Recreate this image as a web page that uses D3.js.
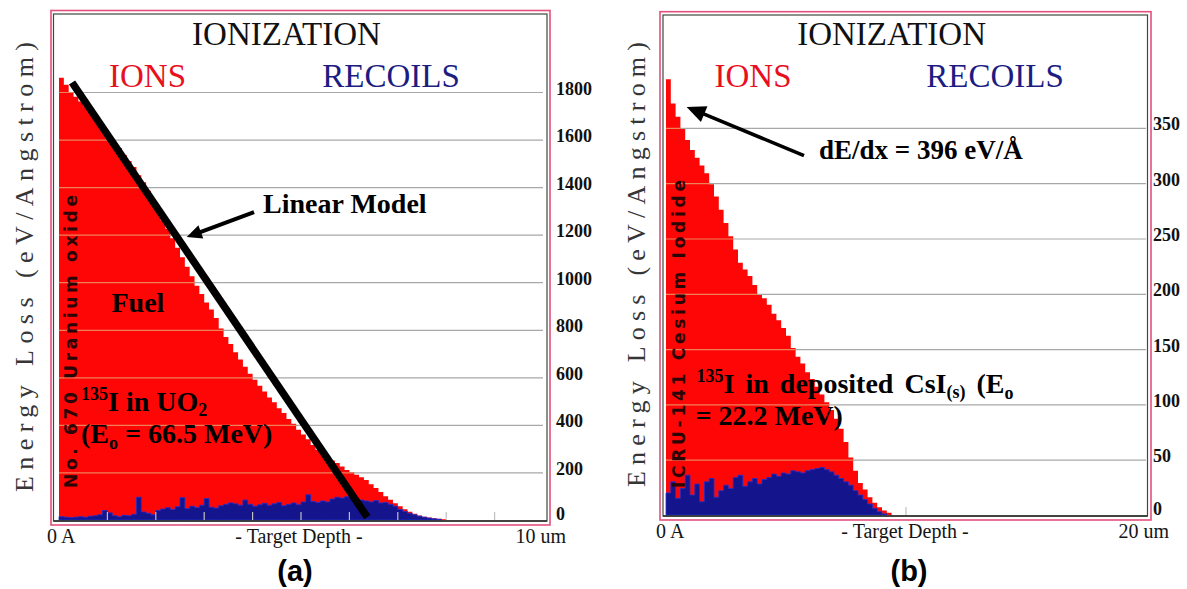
<!DOCTYPE html>
<html>
<head>
<meta charset="utf-8">
<script src="https://cdn.jsdelivr.net/npm/d3@7"></script>
<style>
  body { margin: 0; background: #fff; }
</style>
</head>
<body>
<div id="chart"></div>
<script>
// ---- data ----
// (a) 135I in UO2, ion / recoil energy loss (eV/A) per 0.1 um depth bin
var binA = 0.1;
var ionsA = [1860, 1830, 1800, 1780, 1760, 1740, 1715, 1690, 1660, 1630,
  1605, 1585, 1565, 1535, 1510, 1485, 1450, 1420, 1385, 1345,
  1300, 1260, 1225, 1185, 1145, 1105, 1065, 1025, 985, 950,
  915, 885, 850, 805, 770, 740, 705, 675, 645, 615,
  590, 565, 540, 515, 495, 470, 450, 425, 405, 380,
  360, 340, 315, 295, 280, 265, 250, 240, 225, 210,
  200, 190, 180, 168, 150, 135, 118, 100, 85, 70,
  58, 45, 35, 26, 19, 14, 10, 7, 5, 3, 0];
var recoilsA = [14, 12, 10, 12, 14, 12, 16, 18, 22, 40,
  30, 18, 14, 20, 18, 24, 96, 34, 28, 22,
  40, 46, 52, 44, 56, 94, 48, 58, 52, 62,
  90, 54, 50, 60, 66, 72, 68, 62, 84, 66,
  58, 64, 70, 62, 68, 74, 60, 66, 72, 64,
  76, 106, 78, 74, 80, 76, 88, 96, 92, 98,
  94, 90, 84, 80, 76, 82, 72, 74, 66, 58,
  44, 36, 28, 22, 16, 12, 8, 5, 3, 0];
var linearModel = [[0.27, 1840], [6.37, 12]];
var yTicksA = [0, 200, 400, 600, 800, 1000, 1200, 1400, 1600, 1800];
var xTicksA = [1, 2, 3, 4, 5, 6, 7, 8, 9];

// (b) 135I in deposited CsI, per 0.2 um depth bin
var binB = 0.2;
var ionsB = [394, 372, 360, 349, 339, 330, 323, 316, 309, 299,
  288, 276, 264, 252, 240, 228, 222, 216, 208, 199,
  196, 190, 182, 176, 169, 162, 151, 143, 137, 129,
  123, 116, 109, 102, 95, 87, 78, 66, 52, 40,
  29, 23, 16, 11, 7, 4, 2, 0];
var recoilsB = [20, 30, 15, 24, 36, 18, 28, 12, 30, 33,
  16, 22, 27, 24, 34, 36, 26, 30, 33, 28,
  32, 34, 37, 35, 38, 37, 40, 39, 38, 40,
  41, 42, 43, 41, 39, 36, 33, 30, 27, 22,
  18, 14, 10, 6, 3, 1, 0];
var yTicksB = [0, 50, 100, 150, 200, 250, 300, 350];
var xTicksB = [10];

var W = 1187, H = 589;
var svg = d3.select("#chart").append("svg")
  .attr("width", W).attr("height", H)
  .style("font-family", "'Liberation Serif', serif");

function arrow(g, x1, y1, x2, y2, len, half, lw) {
  var dx = x2 - x1, dy = y2 - y1, L = Math.sqrt(dx * dx + dy * dy);
  var ux = dx / L, uy = dy / L;
  var bx = x2 - ux * len, by = y2 - uy * len;
  g.append("line").attr("x1", x1).attr("y1", y1).attr("x2", bx + ux * 2).attr("y2", by + uy * 2)
    .attr("stroke", "#000").attr("stroke-width", lw);
  g.append("path")
    .attr("d", "M" + x2 + "," + y2 + "L" + (bx - uy * half) + "," + (by + ux * half) +
      "L" + (bx + uy * half) + "," + (by - ux * half) + "Z")
    .attr("fill", "#000");
}

function drawPanel(p) {
  var g = svg.append("g");
  var x = d3.scaleLinear().domain([0, p.xmax]).range(p.xr);
  var y = d3.scaleLinear().domain([0, p.ymax]).range(p.yr);

  // frames
  g.append("rect").attr("x", p.pink[0]).attr("y", p.pink[1])
    .attr("width", p.pink[2] - p.pink[0]).attr("height", p.pink[3] - p.pink[1])
    .attr("fill", "none").attr("stroke", "#e4507c").attr("stroke-width", 1.6);
  g.append("rect").attr("x", p.inner[0]).attr("y", p.inner[1])
    .attr("width", p.inner[2] - p.inner[0]).attr("height", p.inner[3] - p.inner[1])
    .attr("fill", "none").attr("stroke", "#3e4a40").attr("stroke-width", 1.2);

  // grid lines
  var gridV = p.yTicks.filter(function(d) { return d > 0; });
  g.append("g").selectAll("line").data(gridV).enter().append("line")
    .attr("x1", p.xr[0]).attr("x2", p.xr[1])
    .attr("y1", function(d) { return y(d) + 0.5; }).attr("y2", function(d) { return y(d) + 0.5; })
    .attr("stroke", "#a8a8a8").attr("stroke-width", 1.2);

  var area = function(bin) {
    return d3.area()
      .x(function(d, i) { return x(i * bin); })
      .y0(y(0))
      .y1(function(d) { return y(d); })
      .curve(d3.curveStepAfter);
  };

  var ionPath = area(p.bin)(p.ions);
  g.append("path").attr("d", ionPath).attr("fill", "#ff0606");

  // grid showing faintly through the red area
  g.append("clipPath").attr("id", "clip" + p.id).append("path").attr("d", ionPath);
  g.append("g").attr("clip-path", "url(#clip" + p.id + ")")
    .selectAll("line").data(gridV).enter().append("line")
    .attr("x1", p.xr[0]).attr("x2", p.xr[1])
    .attr("y1", function(d) { return y(d) + 0.5; }).attr("y2", function(d) { return y(d) + 0.5; })
    .attr("stroke", "#e8a070").attr("stroke-width", 1.2).attr("opacity", 0.8);

  g.append("path").attr("d", area(p.bin)(p.recoils))
    .attr("fill", "#14148c").attr("stroke", "#2030d0").attr("stroke-width", 0.8);

  // x ticks
  g.append("g").selectAll("line").data(p.xTicks).enter().append("line")
    .attr("x1", function(d) { return x(d); }).attr("x2", function(d) { return x(d); })
    .attr("y1", y(0)).attr("y2", y(0) - 8)
    .attr("stroke", "#c0c0c0").attr("stroke-width", 1.2);

  // baseline
  g.append("line").attr("x1", p.inner[0]).attr("x2", p.inner[2])
    .attr("y1", y(0) + 1).attr("y2", y(0) + 1)
    .attr("stroke", "#2a2a2a").attr("stroke-width", 1.5);

  // y tick labels on the right
  g.append("g").selectAll("text").data(p.yTicks).enter().append("text")
    .attr("x", p.labelX).attr("y", function(d) { return y(d) + (d === 0 ? 0 : 2.5); })
    .attr("font-size", 18).attr("font-weight", "bold").attr("fill", "#111")
    .text(function(d) { return d; });

  // headers
  g.append("text").attr("x", p.title[0]).attr("y", 45).attr("text-anchor", "middle")
    .attr("font-size", 33).attr("fill", "#111").text("IONIZATION");
  g.append("text").attr("x", p.title[1]).attr("y", 87).attr("text-anchor", "middle")
    .attr("font-size", 33).attr("fill", "#e8101e").text("IONS");
  g.append("text").attr("x", p.title[2]).attr("y", 87).attr("text-anchor", "middle")
    .attr("font-size", 33).attr("fill", "#1c1c82").text("RECOILS");

  // axis texts
  g.append("text").attr("transform", "translate(" + p.eLoss[0] + "," + p.eLoss[1] + ") rotate(-90)")
    .attr("font-size", 26).attr("fill", "#363636")
    .attr("textLength", p.eLoss[2]).attr("lengthAdjust", "spacing")
    .text("Energy Loss (eV/Angstrom)");
  g.append("text").attr("transform", "translate(" + p.mat[0] + "," + p.mat[1] + ") rotate(-90)")
    .attr("font-size", 17).attr("font-weight", "bold").attr("fill", "#2b0505")
    .style("font-family", "'DejaVu Sans', sans-serif")
    .attr("textLength", p.mat[2]).attr("lengthAdjust", "spacing")
    .text(p.material);

  g.append("text").attr("x", p.bottom[0]).attr("y", p.bottom[3])
    .attr("font-size", 20).attr("fill", "#151515").text("0 A");
  g.append("text").attr("x", p.bottom[1]).attr("y", p.bottom[3]).attr("text-anchor", "middle")
    .attr("font-size", 20).attr("fill", "#151515").text("- Target Depth -");
  g.append("text").attr("x", p.bottom[2]).attr("y", p.bottom[3]).attr("text-anchor", "end")
    .attr("font-size", 20).attr("fill", "#151515").text(p.xmax + " um");

  g.append("text").attr("x", p.caption[0]).attr("y", p.caption[1]).attr("text-anchor", "middle")
    .style("font-family", "'Liberation Sans', Arial, sans-serif")
    .attr("font-size", 29).attr("font-weight", "bold").attr("fill", "#000")
    .text(p.captionText);

  return { g: g, x: x, y: y };
}

// ---- panel (a) ----
var A = drawPanel({
  id: "a", xmax: 10, xr: [59, 543], ymax: 1800, yr: [520, 92],
  pink: [51, 10.5, 550, 525], inner: [53.5, 14, 547, 521],
  bin: binA, ions: ionsA, recoils: recoilsA, yTicks: yTicksA, xTicks: xTicksA,
  labelX: 556, title: [286.5, 147.5, 391],
  eLoss: [32.5, 492, 450], mat: [77, 488, 293], material: "No. 670 Uranium oxide",
  bottom: [47, 299, 566, 542.5], caption: [295, 581], captionText: "(a)"
});

A.g.append("line")
  .attr("x1", A.x(linearModel[0][0])).attr("y1", A.y(linearModel[0][1]))
  .attr("x2", A.x(linearModel[1][0])).attr("y2", A.y(linearModel[1][1]))
  .attr("stroke", "#000").attr("stroke-width", 7.5);

arrow(A.g, A.x(4.03), A.y(1295), A.x(2.64), A.y(1190), 15, 7, 4);

var bold = function(g, xx, yy) {
  return g.append("text").attr("x", xx).attr("y", yy)
    .attr("font-size", 28).attr("font-weight", "bold").attr("fill", "#000");
};
bold(A.g, 263, 213).text("Linear Model");
bold(A.g, 111.5, 312).text("Fuel");
var t1 = bold(A.g, 81, 411);
t1.append("tspan").attr("font-size", 18).attr("dy", -11).text("135");
t1.append("tspan").attr("dy", 11).text("I in UO");
t1.append("tspan").attr("font-size", 18).attr("dy", 5).text("2");
var t2 = bold(A.g, 81, 443);
t2.append("tspan").text("(E");
t2.append("tspan").attr("font-size", 18).attr("dy", 6).text("o");
t2.append("tspan").attr("dy", -6).text(" = 66.5 MeV)");

// ---- panel (b) ----
var B = drawPanel({
  id: "b", xmax: 20, xr: [666, 1146], ymax: 350, yr: [515, 127.9],
  pink: [660, 11.7, 1151, 520], inner: [663, 15, 1147.5, 516],
  bin: binB, ions: ionsB, recoils: recoilsB, yTicks: yTicksB, xTicks: xTicksB,
  labelX: 1153, title: [891.6, 753, 995],
  eLoss: [645, 487, 445], mat: [685, 488, 308], material: "ICRU-141 Cesium Iodide",
  bottom: [656, 905, 1169, 538], caption: [909, 581], captionText: "(b)"
});

arrow(B.g, B.x(5.75), B.y(325), B.x(0.86), B.y(369), 19, 8.5, 3.6);
bold(B.g, 819, 159).attr("font-size", 27).text("dE/dx = 396 eV/Å");
var t3 = bold(B.g, 696.6, 393).attr("word-spacing", 4);
t3.append("tspan").attr("font-size", 18).attr("dy", -11).text("135");
t3.append("tspan").attr("dy", 11).text("I in deposited CsI");
t3.append("tspan").attr("font-size", 18).attr("dy", 5).text("(s)");
t3.append("tspan").attr("dy", -5).text(" (E");
t3.append("tspan").attr("font-size", 18).attr("dy", 6).text("o");
bold(B.g, 695.5, 425).text("= 22.2 MeV)");
</script>
</body>
</html>
